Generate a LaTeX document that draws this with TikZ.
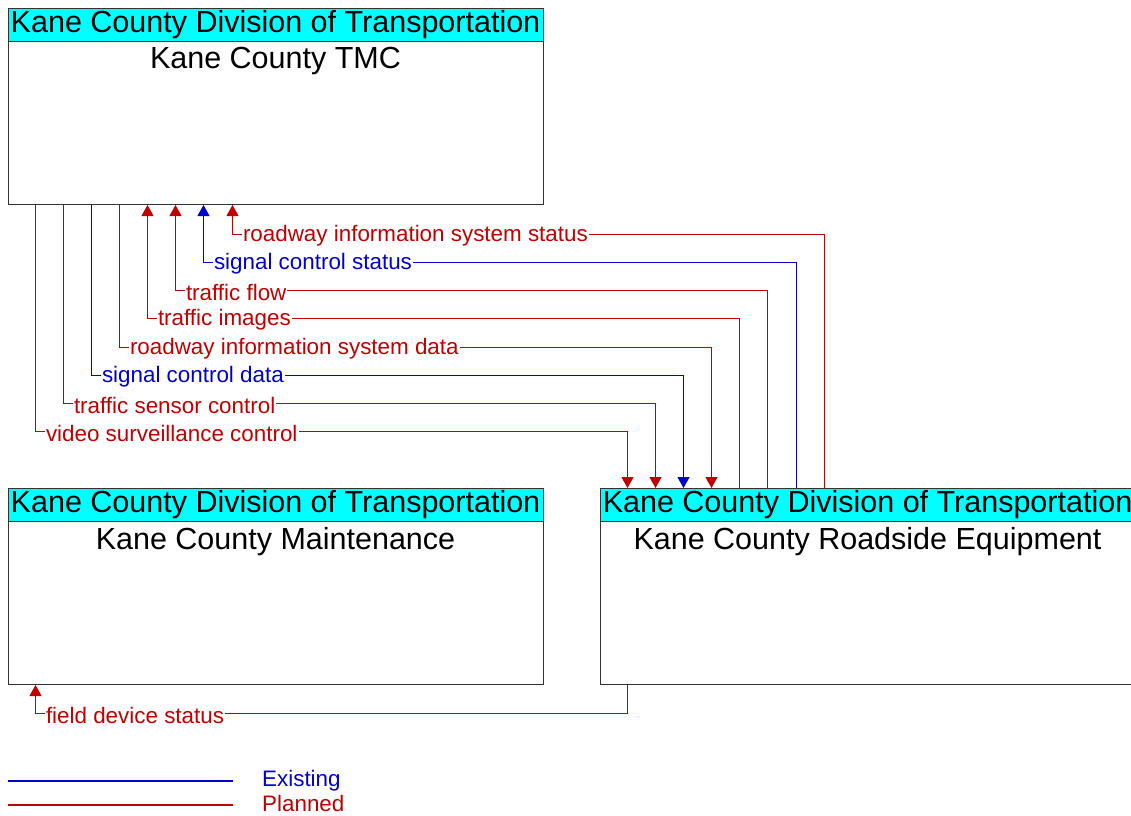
\documentclass[tikz,border=0pt]{standalone}
\usepackage{fontspec}
\setmainfont{Liberation Sans}
\usetikzlibrary{arrows.meta}
\usetikzlibrary{positioning}
\definecolor{plannedred}{RGB}{192,0,0}
\definecolor{existblue}{RGB}{0,0,204}
\definecolor{ownercyan}{RGB}{0,255,255}
\tikzset{>={Triangle[width=12pt,length=11pt]}, x=1pt, y=-1pt, node distance=56pt}
\tikzstyle{sysbox} = [draw=black!80, line width=1pt, rectangle, minimum width=535pt, minimum height=196pt, inner sep=0pt]
\tikzstyle{owner} = [draw=black!80, line width=1pt, fill=ownercyan, rectangle, minimum width=535pt, minimum height=33pt, inner sep=0pt, anchor=north, font=\fontsize{30.5}{30.5}\selectfont]
\tikzstyle{sysname} = [inner sep=5pt, font=\fontsize{30.5}{30.5}\selectfont]
\tikzstyle{existing} = [color=existblue, line width=1pt]
\tikzstyle{planned} = [color=plannedred, line width=1pt]
\tikzstyle{flow} = [anchor=west, xshift=9pt, yshift=-2pt, fill=white, inner xsep=1pt, inner ysep=1pt, font=\fontsize{22.4}{22.4}\selectfont]
\tikzstyle{legend} = [anchor=west, inner sep=0pt, font=\fontsize{22.4}{22.4}\selectfont]

\begin{document}
\begin{tikzpicture}
    \useasboundingbox (0,0) rectangle (1131,815);
    \node [sysbox] (tmc) at (275.5,106.5) {};
    \node [owner] (tmc_owner) at (tmc.north) {Kane County Division of Transportation};
    \node [sysname, below=0pt of tmc_owner] (tmc_name) {Kane County TMC};
    \node [sysbox, below=283pt of tmc] (maint) {};
    \node [owner] (maint_owner) at (maint.north) {Kane County Division of Transportation};
    \node [sysname, below=0pt of maint_owner] (maint_name) {Kane County Maintenance};
    \node [sysbox, right=56pt of maint] (rse) {};
    \node [owner] (rse_owner) at (rse.north) {Kane County Division of Transportation};
    \node [sysname, below=0pt of rse_owner] (rse_name) {Kane County Roadside Equipment};

    \draw [planned,->] ([xshift=28pt]tmc.south west) -- ++(0,226) node [flow] {video surveillance control} -| ([xshift=28pt]rse.north west);
    \draw [planned,->] ([xshift=56pt]tmc.south west) -- ++(0,198) node [flow] {traffic sensor control} -| ([xshift=56pt]rse.north west);
    \draw [existing,->] ([xshift=84pt]tmc.south west) -- ++(0,170) node [flow] {signal control data} -| ([xshift=84pt]rse.north west);
    \draw [planned,->] ([xshift=112pt]tmc.south west) -- ++(0,142) node [flow] {roadway information system data} -| ([xshift=112pt]rse.north west);
    \draw [planned,<-] ([xshift=140pt]tmc.south west) -- ++(0,113) node [flow] {traffic images} -| ([xshift=140pt]rse.north west);
    \draw [planned,<-] ([xshift=168pt]tmc.south west) -- ++(0,85) node [flow] {traffic flow} -| ([xshift=168pt]rse.north west);
    \draw [existing,<-] ([xshift=196pt]tmc.south west) -- ++(0,57) node [flow] {signal control status} -| ([xshift=197pt]rse.north west);
    \draw [planned,<-] ([xshift=225pt]tmc.south west) -- ++(0,29) node [flow] {roadway information system status} -| ([xshift=225pt]rse.north west);
    \draw [planned,<-] ([xshift=28pt]maint.south west) -- ++(0,28) node [flow] {field device status} -| ([xshift=28pt]rse.south west);

    % legend
    \node [legend, text=existblue] (leg_existing) at (262,781) {Existing};
    \node [legend, text=plannedred] (leg_planned) at (262,803) {Planned};
    \draw [existing, line width=1.4pt] (8,781) -- (233,781);
    \draw [planned, line width=1.4pt] (8,805) -- (233,805);
\end{tikzpicture}
\end{document}
